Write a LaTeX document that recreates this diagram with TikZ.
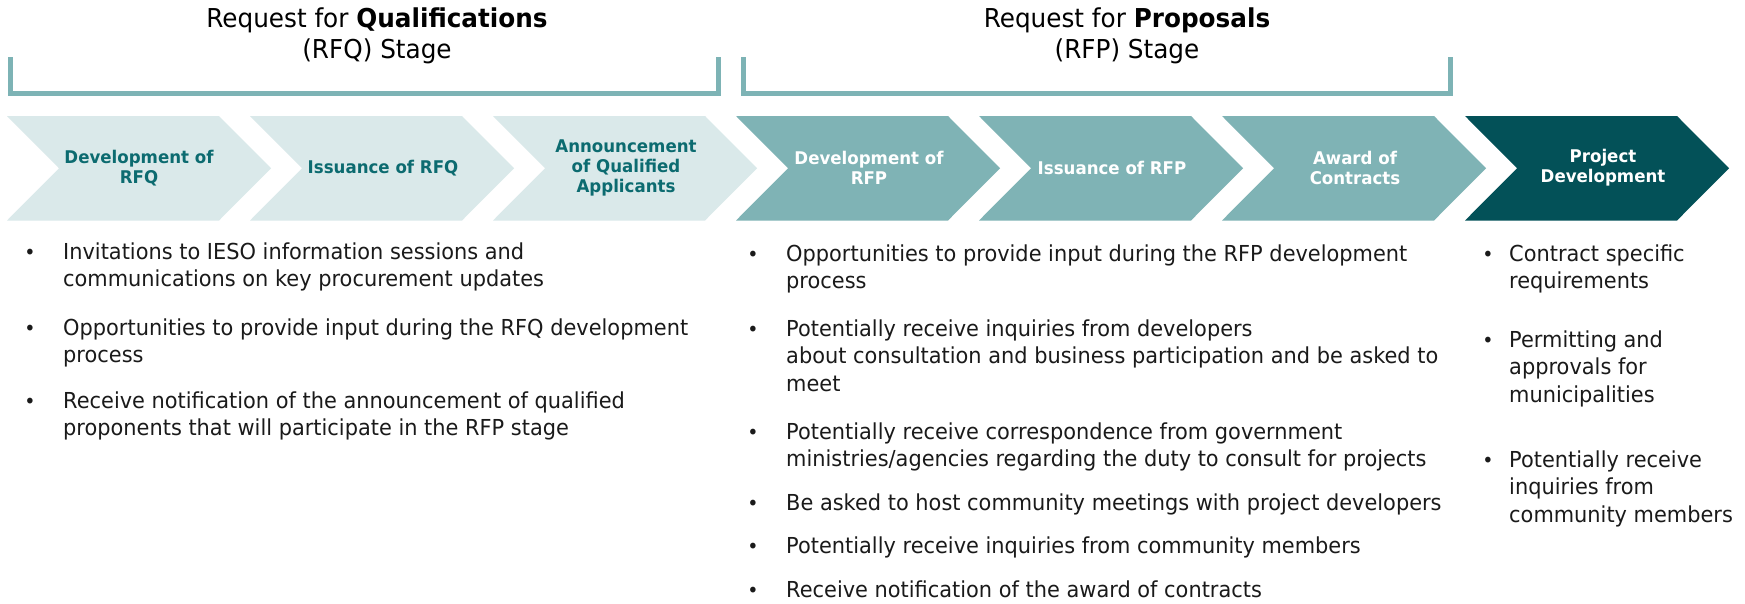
\documentclass[tikz,border=0pt]{standalone}
\usepackage{fontspec}
\setmainfont{DejaVu Sans}[FakeStretch=0.95]
\definecolor{lightch}{HTML}{DAE9EA}
\definecolor{midch}{HTML}{7FB3B5}
\definecolor{darkch}{HTML}{035158}
\definecolor{labteal}{HTML}{0C6B70}
\definecolor{brk}{HTML}{7DB3B5}
\definecolor{bodytxt}{HTML}{1A1A1A}
\tikzset{
  chevlab/.style={align=center, inner sep=0pt, font=\fontsize{17.5}{20}\selectfont\bfseries},
  titletxt/.style={align=center, inner sep=0pt, anchor=base, font=\fontsize{26}{31}\selectfont, text=black},
  bultxt/.style={align=left, inner sep=0pt, anchor=base west, font=\fontsize{22}{27.5}\selectfont, text=bodytxt},
  bulmark/.style={inner sep=0pt, anchor=base, font=\fontsize{20}{27.5}\selectfont, text=bodytxt},
  bracket/.style={draw=brk, line width=5pt}
}
\newcommand\chevshape[2]{\fill[#2] (#1,116) -- ++(212,0) -- ++(52,52.25) -- ++(-52,52.25) -- ++(-212,0) -- ++(52,-52.25) -- cycle;}
% name, bullet x, text x, first baseline, number of lines, text
\newcommand\bulitem[6]{%
  \node[bulmark] (#1m) at (#2,#4) {•};
  \node[bultxt] (#1t) at (#3,{#4+(#5-1)*27.5}) {#6};}
\begin{document}
\begin{tikzpicture}[x=1pt,y=-1pt]
\path[use as bounding box, fill=white] (0,0) rectangle (1745,603);
% titles (base anchor = last line)
\node[titletxt] (t1) at (377,58) {Request for \textbf{Qualifications}\\(RFQ) Stage};
\node[titletxt] (t2) at (1127,58) {Request for \textbf{Proposals}\\(RFP) Stage};
% brackets
\draw[bracket] (10.5,57) -- (10.5,93) -- (718,93) -- (718,57);
\draw[bracket] (743.5,57) -- (743.5,93) -- (1450.5,93) -- (1450.5,57);
% chevrons
\chevshape{7}{lightch}
\chevshape{250}{lightch}
\chevshape{493}{lightch}
\chevshape{736}{midch}
\chevshape{979}{midch}
\chevshape{1222}{midch}
\chevshape{1465}{darkch}
\node[chevlab, text=labteal] (c1) at (139,168) {Development of\\RFQ};
\node[chevlab, text=labteal] (c2) at (383,168) {Issuance of RFQ};
\node[chevlab, text=labteal] (c3) at (626,168) {Announcement\\of Qualified\\Applicants};
\node[chevlab, text=white] (c4) at (869,168) {Development of\\RFP};
\node[chevlab, text=white] (c5) at (1112,168) {Issuance of RFP};
\node[chevlab, text=white] (c6) at (1355,168) {Award of\\Contracts};
\node[chevlab, text=white] (c7) at (1603,168) {Project\\Development};
% left column
\bulitem{a1}{30}{63}{259}{2}{Invitations to IESO information sessions and\\communications on key procurement updates}
\bulitem{a2}{30}{63}{335}{2}{Opportunities to provide input during the RFQ development\\process}
\bulitem{a3}{30}{63}{408}{2}{Receive notification of the announcement of qualified\\proponents that will participate in the RFP stage}
% middle column
\bulitem{b1}{753}{786}{261}{2}{Opportunities to provide input during the RFP development\\process}
\bulitem{b2}{753}{786}{336}{3}{Potentially receive inquiries from developers\\about consultation and business participation and be asked to\\meet}
\bulitem{b3}{753}{786}{439}{2}{Potentially receive correspondence from government\\ministries/agencies regarding the duty to consult for projects}
\bulitem{b4}{753}{786}{510}{1}{Be asked to host community meetings with project developers}
\bulitem{b5}{753}{786}{553}{1}{Potentially receive inquiries from community members}
\bulitem{b6}{753}{786}{597}{1}{Receive notification of the award of contracts}
% right column
\bulitem{r1}{1488}{1509}{261}{2}{Contract specific\\requirements}
\bulitem{r2}{1488}{1509}{347}{3}{Permitting and\\approvals for\\municipalities}
\bulitem{r3}{1488}{1509}{467}{3}{Potentially receive\\inquiries from\\community members}
\end{tikzpicture}
\end{document}
